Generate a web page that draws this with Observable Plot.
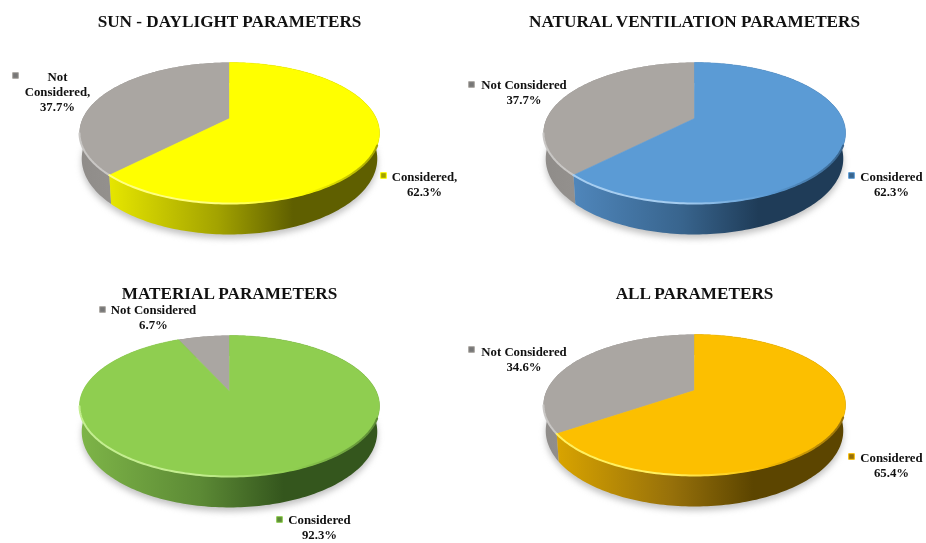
<!DOCTYPE html>
<html>
<head>
<meta charset="utf-8">
<style>html,body{margin:0;padding:0;background:#fff}svg{display:block}</style>
<script src="https://cdn.jsdelivr.net/npm/d3@7"></script>
<script src="https://cdn.jsdelivr.net/npm/@observablehq/plot@0.6"></script>
</head>
<body>
<div id="chart"></div>
<script>
// ---- data ----
const titles = ["SUN - DAYLIGHT PARAMETERS", "NATURAL VENTILATION PARAMETERS", "MATERIAL PARAMETERS", "ALL PARAMETERS"];
const consideredValues = [62.3, 62.3, 92.3, 65.4];
const notConsideredValues = [37.7, 37.7, 6.7, 34.6];
const consideredLabels = ["Considered,\n62.3%", "Considered\n62.3%", "Considered\n92.3%", "Considered\n65.4%"];
const notConsideredLabels = ["Not\nConsidered,\n37.7%", "Not Considered\n37.7%", "Not Considered\n6.7%", "Not Considered\n34.6%"];

// ---- styles ----
const topColors = ["#ffff00", "#5b9bd5", "#8fce50", "#fcbf00"];
const sideLight = ["#e6e600", "#4f86bb", "#7eb548", "#d9a400"];
const sideMid = ["#a3a300", "#38648d", "#5c8a35", "#96700a"];
const sideDark = ["#5f5f00", "#1f3c58", "#34561d", "#5c4500"];
const rimLight = ["#ffff80", "#a6cdf0", "#c4ee90", "#fff060"];
const grayTop = "#aaa6a2", grayLight = "#8f8c89", grayDark = "#a4a19e", grayRim = "#c9c7c5";

// ---- layout (pie centres, label anchors) ----
const pieCx = [229, 694, 229, 694], pieAy = [118, 118, 391, 390], pieA = [146.8, 147.8, 146.8, 147.8];
const titleX = [229, 694, 229, 694], titleY = [21, 21, 293, 293];
const conLabelX = [424, 891, 319, 891], conLabelY = [183.5, 183.5, 526.5, 464.5];
const conMarkX = [383, 851, 279, 851], conMarkY = [175, 175, 519, 456];
const notLabelX = [57, 523.5, 153, 523.5], notLabelY = [91, 91.5, 316.5, 358];
const notMarkX = [15, 471, 102, 471], notMarkY = [75, 84, 309, 349];
const K = 0.2057, B = 67.5, DEPTH = 24.6, BOTTOM_SCALE = 0.985;

const project = (i, t, lower = false) => {
  const u = Math.sin(t), v = Math.cos(t), w = 1 + K * v;
  const s = lower ? BOTTOM_SCALE : 1;
  return {
    x: pieCx[i] + pieA[i] * s * u / w,
    y: pieAy[i] - B * v / w + (lower ? DEPTH / w : 0)
  };
};
const angles = (s, e) => {
  const n = Math.max(2, Math.ceil((e - s) / 0.02));
  return d3.range(n + 1).map(j => s + (e - s) * j / n);
};
const wedgeTop = (i, a) => [{x: pieCx[i], y: pieAy[i]}, ...angles(a.startAngle, a.endAngle).map(t => project(i, t)), {x: pieCx[i], y: pieAy[i]}];
const wedgeSide = (i, a) => [...angles(a.startAngle, a.endAngle).map(t => project(i, t)), ...angles(a.startAngle, a.endAngle).reverse().map(t => project(i, t, true))];
const rimLine = (i, a) => {
  const s = Math.max(a.startAngle, 1.95), e = Math.min(a.endAngle, 4.5);
  return s < e ? angles(s, e).map(t => project(i, t)) : [];
};

const pieGen = d3.pie().sort(null).value(d => d);

function defs() {
  const svg = d3.create("svg:defs");
  const grad = (id, stops) => {
    const g = svg.append("linearGradient").attr("id", id).attr("x1", 0).attr("x2", 1).attr("y1", 0).attr("y2", 0);
    stops.forEach(([o, c]) => g.append("stop").attr("offset", o).attr("stop-color", c));
  };
  titles.forEach((_, i) => {
    grad(`side${i}`, [[0, sideLight[i]], [0.4, sideMid[i]], [0.68, sideDark[i]], [1, sideDark[i]]]);
    grad(`rim${i}`, [[0, rimLight[i]], [0.4, rimLight[i]], [0.72, topColors[i]], [1, sideMid[i]]]);
  });
  grad("sideGray", [[0, grayLight], [1, grayDark]]);
  return svg.node();
}

const marks = [defs];
titles.forEach((_, i) => {
  const [con, not] = pieGen([consideredValues[i], notConsideredValues[i]]);
  const g = {x: "x", y: "y", stroke: "none"};
  marks.push(
    Plot.line(angles(0, 2 * Math.PI).map(t => project(i, t, true)).map(d => ({x: d.x, y: d.y + 4})), {...g, fill: "#8f8f8f", fillOpacity: 0.55, imageFilter: "blur(3px)"}),
    Plot.line(wedgeSide(i, not), {...g, fill: "url(#sideGray)"}),
    Plot.line(wedgeSide(i, con), {...g, fill: `url(#side${i})`}),
    Plot.line(wedgeTop(i, not), {...g, fill: grayTop}),
    Plot.line(wedgeTop(i, con), {x: "x", y: "y", fill: topColors[i], stroke: topColors[i], strokeWidth: 0.6}),
    Plot.line(rimLine(i, not), {x: "x", y: "y", stroke: grayRim, strokeWidth: 2, imageFilter: "blur(0.5px)"}),
    Plot.line(rimLine(i, con), {x: "x", y: "y", stroke: `url(#rim${i})`, strokeWidth: 2, imageFilter: "blur(0.5px)"})
  );
});

const idx = titles.map((_, i) => i);
const serif = {fontFamily: "Liberation Serif", fontWeight: "bold", fill: "#111", textAnchor: "middle"};
marks.push(
  Plot.text(idx, {x: i => titleX[i], y: i => titleY[i], text: i => titles[i], ...serif, fontSize: 17.2}),
  Plot.text(idx, {x: i => conLabelX[i], y: i => conLabelY[i], text: i => consideredLabels[i], ...serif, fontSize: 12.8, lineHeight: 1.18}),
  Plot.text(idx, {x: i => notLabelX[i], y: i => notLabelY[i], text: i => notConsideredLabels[i], ...serif, fontSize: 12.8, lineHeight: 1.18}),
  Plot.dot(idx, {x: i => conMarkX[i], y: i => conMarkY[i], symbol: "square", r: 3.2, fill: i => sideMid[i], stroke: i => topColors[i], strokeWidth: 1}),
  Plot.dot(idx, {x: i => notMarkX[i], y: i => notMarkY[i], symbol: "square", r: 3.2, fill: "#777", stroke: grayTop, strokeWidth: 1})
);

const plot = Plot.plot({
  width: 926, height: 543, margin: 0,
  x: {type: "linear", domain: [0, 926], range: [0, 926], axis: null},
  y: {type: "linear", domain: [0, 543], range: [0, 543], axis: null},
  color: {type: "identity"},
  style: {background: "#fff", filter: "blur(0.35px)"},
  marks
});
document.getElementById("chart").append(plot);
</script>
</body>
</html>
